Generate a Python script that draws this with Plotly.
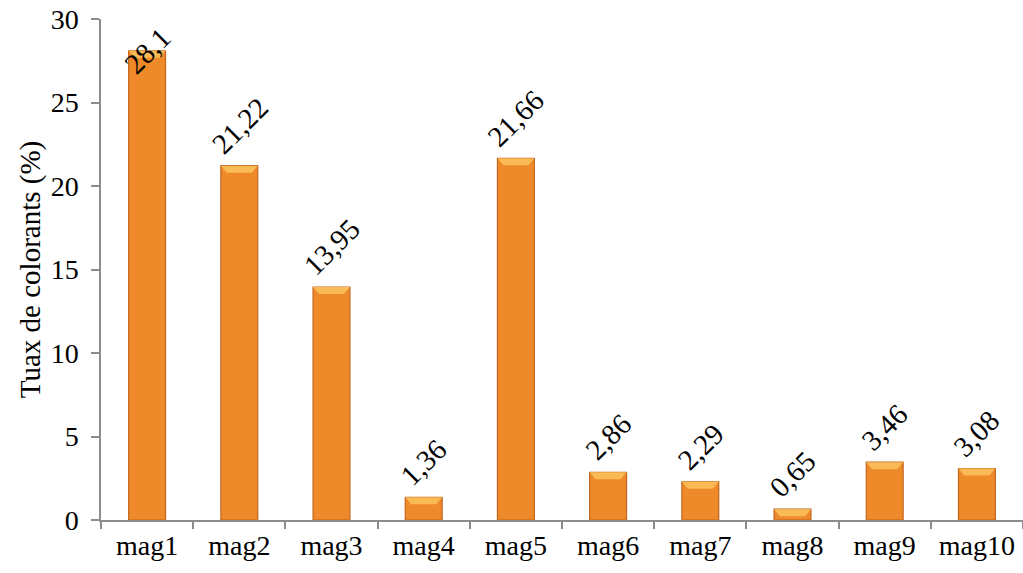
import plotly.graph_objects as go

categories = ["mag1", "mag2", "mag3", "mag4", "mag5", "mag6", "mag7", "mag8", "mag9", "mag10"]
values = [28.1, 21.22, 13.95, 1.36, 21.66, 2.86, 2.29, 0.65, 3.46, 3.08]
value_labels = ["28,1", "21,22", "13,95", "1,36", "21,66", "2,86", "2,29", "0,65", "3,46", "3,08"]
y_ticks = [0, 5, 10, 15, 20, 25, 30]

FONT = "Times New Roman, Times, serif"
Y_MAX = 30
BAR_WIDTH = 0.4
BAR_PX = 37  # approximate drawn bar width in pixels, used for the bevel overlay

fig = go.Figure()
fig.add_trace(go.Bar(
    x=categories,
    y=values,
    width=BAR_WIDTH,
    marker=dict(color="#EF8A2B", line=dict(color="#C2651B", width=1.2)),
    hoverinfo="x+y",
))

# light bevel on top of each bar
half = BAR_PX / 2
for cat, val in zip(categories, values):
    fig.add_shape(
        type="path", xref="x", yref="y",
        xsizemode="pixel", ysizemode="pixel",
        xanchor=cat, yanchor=val,
        path=f"M {-half},0 L {half},0 L {half-6},-7 L {-half+6},-7 Z",
        fillcolor="#FABA55", line=dict(width=0), layer="above",
    )

# rotated value labels above the bars; a label near the top of the range
# is centred on the bar end instead of sitting above it
for cat, val, lab in zip(categories, values, value_labels):
    near_top = val > Y_MAX - 4
    fig.add_annotation(
        x=cat, y=val, text=lab, showarrow=False, textangle=-45,
        xanchor="center", yanchor="middle" if near_top else "bottom",
        yshift=0 if near_top else 3,
        font=dict(family=FONT, size=29, color="black"),
    )

fig.update_layout(
    width=1023, height=573,
    margin=dict(l=101, r=0, t=19, b=53),
    paper_bgcolor="white", plot_bgcolor="white",
    showlegend=False,
    font=dict(family=FONT, color="black"),
)
fig.update_xaxes(
    showline=True, linecolor="#8c8c8c", linewidth=1.5,
    ticks="outside", tickson="boundaries", ticklen=7, tickcolor="#8c8c8c", tickwidth=1.5,
    tickfont=dict(family=FONT, size=28), showgrid=False,
)
fig.update_yaxes(
    range=[0, Y_MAX], tickvals=y_ticks,
    showline=True, linecolor="#8c8c8c", linewidth=1.5,
    ticks="outside", ticklen=8, tickcolor="#8c8c8c", tickwidth=1.5,
    ticklabelstandoff=7,
    tickfont=dict(family=FONT, size=28), showgrid=False, zeroline=False,
    title=dict(text="Tuax de colorants (%)", font=dict(family=FONT, size=29), standoff=2),
)

fig.write_html("out.html")
